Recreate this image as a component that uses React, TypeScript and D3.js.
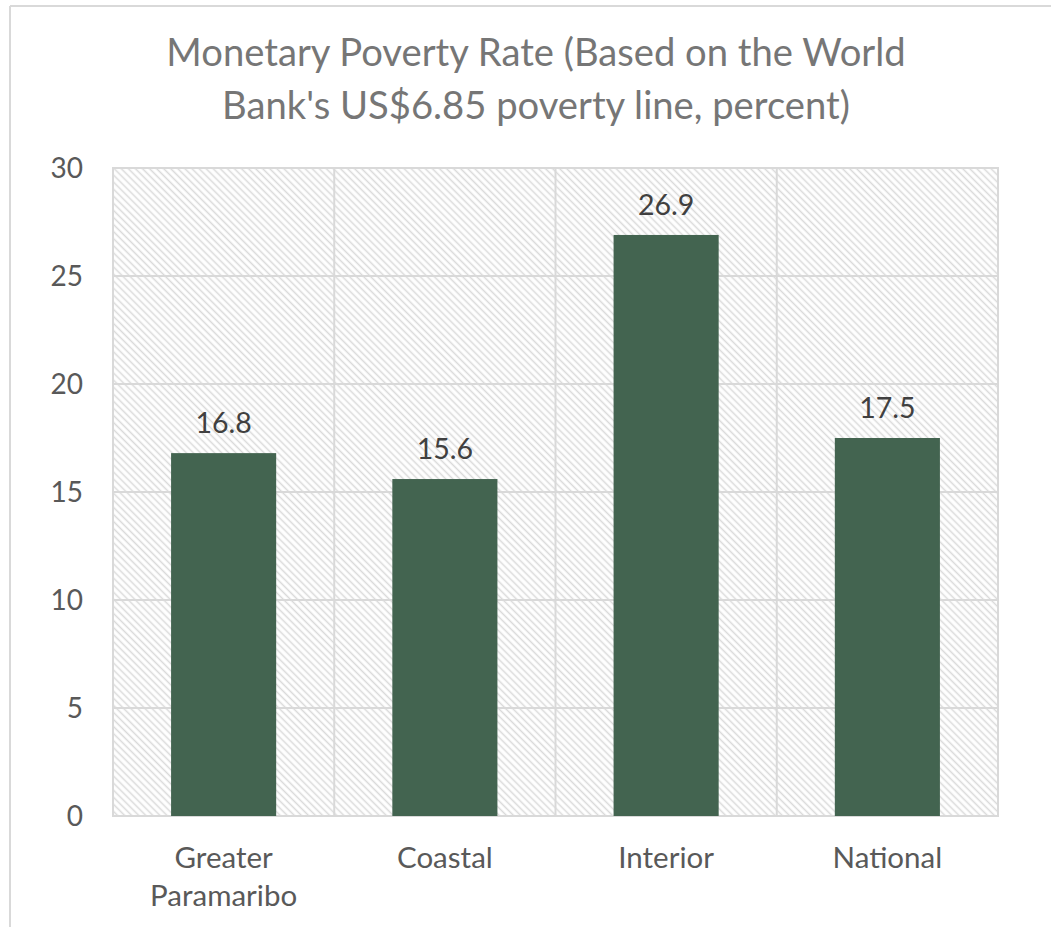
import React from "react";
import * as d3 from "d3";

const categories: string[][] = [["Greater", "Paramaribo"], ["Coastal"], ["Interior"], ["National"]];
const values: number[] = [16.8, 15.6, 26.9, 17.5];
const yTicks: number[] = [0, 5, 10, 15, 20, 25, 30];
const titleLines: string[] = ["Monetary Poverty Rate (Based on the World", "Bank's US$6.85 poverty line, percent)"];

const W = 1051;
const H = 927;
const plot = { left: 113, right: 998, top: 168, bottom: 816 };
const FONT = "Lato, 'Open Sans', sans-serif";
const LABEL_SIZE = 28;

export default function App() {
  const keys = categories.map((c) => c.join(" "));
  const x = d3.scaleBand<string>().domain(keys).range([plot.left, plot.right]).paddingInner(0.525).paddingOuter(0.2625);
  const xb = d3.scaleBand<string>().domain(keys).range([plot.left, plot.right]);
  const y = d3.scaleLinear().domain([0, 30]).range([plot.bottom, plot.top]);

  return (
    <svg width={W} height={H} style={{ position: "absolute", left: 0, top: 0, background: "#fff" }}>
      <defs>
        <pattern id="hatch" width={5} height={5} patternUnits="userSpaceOnUse" patternTransform="rotate(-45)">
          <rect width={5} height={5} fill="#ffffff" />
          <line x1={1.5} y1={0} x2={1.5} y2={5} stroke="#dadada" strokeWidth={1.5} />
        </pattern>
      </defs>
      {/* chart frame */}
      <line x1={10} y1={6} x2={W} y2={6} stroke="#d9d9d9" strokeWidth={2} />
      <line x1={10} y1={6} x2={10} y2={H} stroke="#d9d9d9" strokeWidth={2} />
      {/* title */}
      {titleLines.map((t, i) => (
        <text key={i} x={536} y={66 + i * 53} textAnchor="middle" fontFamily={FONT} fontSize={38.2} fill="#767676">
          {t}
        </text>
      ))}
      {/* plot area */}
      <rect x={plot.left} y={plot.top} width={plot.right - plot.left} height={plot.bottom - plot.top} fill="url(#hatch)" stroke="#d9d9d9" strokeWidth={2} />
      {yTicks.slice(1).map((t) => (
        <line key={t} x1={plot.left} x2={plot.right} y1={y(t)} y2={y(t)} stroke="#d9d9d9" strokeWidth={2} />
      ))}
      {keys.slice(1).map((k) => (
        <line key={k} x1={xb(k)!} x2={xb(k)!} y1={plot.top} y2={plot.bottom} stroke="#d9d9d9" strokeWidth={2} />
      ))}
      <line x1={plot.left} x2={plot.right} y1={plot.bottom} y2={plot.bottom} stroke="#d9d9d9" strokeWidth={2} />
      {/* y tick labels */}
      {yTicks.map((t) => (
        <text key={t} x={83} y={y(t)} dy="0.35em" textAnchor="end" fontFamily={FONT} fontSize={LABEL_SIZE} fill="#595959">
          {t}
        </text>
      ))}
      {/* bars */}
      {values.map((v, i) => (
        <g key={i}>
          <rect x={x(keys[i])!} y={y(v)} width={x.bandwidth()} height={y(0) - y(v)} fill="#436450" />
          <text x={x(keys[i])! + x.bandwidth() / 2} y={y(v) - 20} textAnchor="middle" fontFamily={FONT} fontSize={LABEL_SIZE + 0.5} fill="#404040">
            {v.toFixed(1)}
          </text>
        </g>
      ))}
      {/* category labels */}
      {categories.map((c, i) =>
        c.map((line, j) => (
          <text key={`${i}-${j}`} x={xb(keys[i])! + xb.bandwidth() / 2} y={868 + j * 38} textAnchor="middle" fontFamily={FONT} fontSize={29.5} fill="#595959">
            {line}
          </text>
        ))
      )}
    </svg>
  );
}
